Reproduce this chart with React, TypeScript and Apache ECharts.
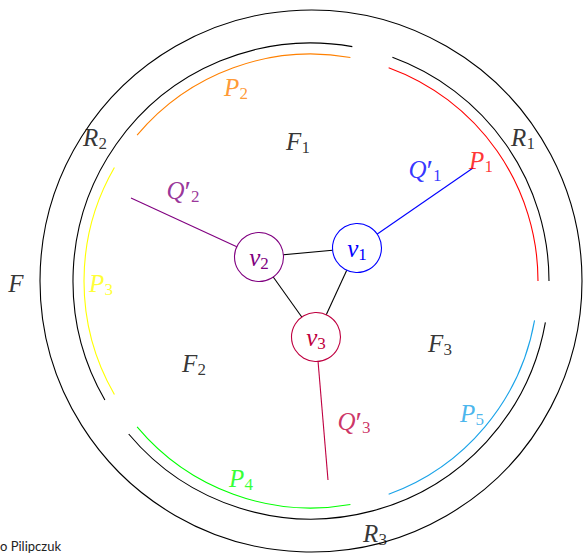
import React, { useEffect, useRef } from 'react';
import * as echarts from 'echarts';

// Ring and path arcs: radius, start / end angle (degrees, counter-clockwise from east)
const arcNames = ['F', 'R1', 'R2', 'R3', 'P1', 'P2', 'P3', 'P4', 'P5'];
const arcRadius = [271, 238, 238, 238, 227, 227, 227, 227, 227];
const arcStartDeg = [0, 0, 80, 220, 0, 80, 150, 220, 290];
const arcEndDeg = [360, 70, 210, 350, 70, 140, 210, 280, 350];

// Vertices
const nodeNames = ['v1', 'v2', 'v3'];
const nodeX = [46, -52, 5];
const nodeY = [33, 24, -56];

// Triangle edges
const edgeFrom = ['v2', 'v1', 'v2'];
const edgeTo = ['v1', 'v3', 'v3'];

// Spokes Q'
const spokeNames = ["Q1'", "Q2'", "Q3'"];
const spokeFrom = ['v1', 'v2', 'v3'];
const spokeEndX = [162, -180, 17];
const spokeEndY = [113, 83, -199];

// Text labels
const labelNames = ['F', 'R2', 'R1', 'F1', 'P2', "Q2'", "Q1'", 'P1', 'P3', 'F2', 'F3', "Q3'", 'P5', 'P4', 'R3'];
const labelX = [-295, -216, 212, -13, -75, -128, 114, 170, -210, -117, 129, 43, 161, -70, 64];
const labelY = [-2, 144, 144, 140, 194, 91, 112, 121, -2, -82, -62, -140, -132, -197, -252];

const colors: Record<string, string> = {
  F: '#000000', R1: '#000000', R2: '#000000', R3: '#000000',
  F1: '#000000', F2: '#000000', F3: '#000000',
  P1: '#ff0000', P2: '#ff8000', P3: '#ffff00', P4: '#00ff00', P5: '#1aa3e8',
  v1: '#0000ff', v2: '#800080', v3: '#bf0040',
  "Q1'": '#0000ff', "Q2'": '#800080', "Q3'": '#bf0040',
};

function richText(name: string): string {
  const base = name[0];
  const rest = name.slice(1);
  const prime = rest.includes("'");
  const sub = rest.replace("'", '');
  let s = `{m|${base}}`;
  if (prime) s += '{p|′}';
  if (sub) s += `{s|${sub}}`;
  return s;
}

const serif = 'Liberation Serif';
const rich = {
  m: { fontFamily: serif, fontStyle: 'italic', fontSize: 25, lineHeight: 30 },
  s: { fontFamily: serif, fontStyle: 'normal', fontSize: 17, lineHeight: 17, verticalAlign: 'bottom' },
  p: { fontFamily: serif, fontStyle: 'normal', fontSize: 30, lineHeight: 22, verticalAlign: 'top' },
};
const labelBase = {
  show: true,
  position: 'inside',
  fontFamily: serif,
  fontStyle: 'italic',
  fontSize: 25,
  formatter: (p: any) => richText(p.name),
  rich,
};

const nodeIndex = (n: string) => nodeNames.indexOf(n);

export default function App() {
  const ref = useRef<HTMLDivElement>(null);
  useEffect(() => {
    if (!ref.current) return;
    const chart = echarts.init(ref.current, undefined, { renderer: 'svg' });
    const lw = 1.1;
    const option: any = {
      animation: false,
      backgroundColor: '#ffffff',
      textStyle: { fontFamily: serif },
      grid: { left: 0, right: 0, top: 0, bottom: 0 },
      xAxis: { type: 'value', min: -311, max: 273, show: false },
      yAxis: { type: 'value', min: -272, max: 281, show: false },
      graphic: [
        {
          type: 'text', left: 0, top: 539,
          style: { text: 'o Pilipczuk', fontFamily: 'Lato', fontSize: 13, fill: '#222' },
        },
      ],
      series: [
        {
          type: 'custom',
          name: 'arcs',
          coordinateSystem: 'cartesian2d',
          data: arcNames.map((n, i) => [arcRadius[i], arcStartDeg[i], arcEndDeg[i]]),
          renderItem: (params: any, api: any) => {
            const c = api.coord([0, 0]);
            const r = api.size([api.value(0), 0])[0];
            const a1 = api.value(1);
            const a2 = api.value(2);
            const name = arcNames[params.dataIndex];
            return {
              type: 'arc',
              shape: {
                cx: c[0], cy: c[1], r,
                startAngle: (-a2 * Math.PI) / 180,
                endAngle: (-a1 * Math.PI) / 180,
                clockwise: true,
              },
              style: { stroke: colors[name], fill: null, lineWidth: lw },
            };
          },
          z: 1,
        },
        {
          type: 'custom',
          name: 'edges',
          coordinateSystem: 'cartesian2d',
          data: edgeFrom.map((f, i) => {
            const a = nodeIndex(f), b = nodeIndex(edgeTo[i]);
            return [nodeX[a], nodeY[a], nodeX[b], nodeY[b]];
          }),
          renderItem: (params: any, api: any) => {
            const p1 = api.coord([api.value(0), api.value(1)]);
            const p2 = api.coord([api.value(2), api.value(3)]);
            return {
              type: 'line',
              shape: { x1: p1[0], y1: p1[1], x2: p2[0], y2: p2[1] },
              style: { stroke: '#000', lineWidth: lw },
            };
          },
          z: 2,
        },
        {
          type: 'custom',
          name: 'spokes',
          coordinateSystem: 'cartesian2d',
          data: spokeFrom.map((f, i) => {
            const a = nodeIndex(f);
            return [nodeX[a], nodeY[a], spokeEndX[i], spokeEndY[i]];
          }),
          renderItem: (params: any, api: any) => {
            const p1 = api.coord([api.value(0), api.value(1)]);
            const p2 = api.coord([api.value(2), api.value(3)]);
            return {
              type: 'line',
              shape: { x1: p1[0], y1: p1[1], x2: p2[0], y2: p2[1] },
              style: { stroke: colors[spokeNames[params.dataIndex]], lineWidth: lw },
            };
          },
          z: 2,
        },
        {
          type: 'scatter',
          name: 'nodes',
          symbol: 'circle',
          symbolSize: 49,
          z: 3,
          data: nodeNames.map((n, i) => ({
            value: [nodeX[i], nodeY[i]],
            name: n,
            itemStyle: { color: '#ffffff', borderColor: colors[n], borderWidth: lw, opacity: 1 },
            label: { color: colors[n] },
          })),
          itemStyle: { opacity: 1 },
          label: labelBase,
          emphasis: { disabled: true },
        },
        {
          type: 'scatter',
          name: 'labels',
          symbolSize: 0,
          z: 4,
          data: labelNames.map((n, i) => ({
            value: [labelX[i], labelY[i]],
            name: n,
            label: { color: colors[n] },
          })),
          label: labelBase,
          emphasis: { disabled: true },
        },
      ],
    };
    chart.setOption(option);
    return () => chart.dispose();
  }, []);
  return (
    <div
      ref={ref}
      style={{ position: 'fixed', left: 0, top: 0, width: 584, height: 553 }}
    />
  );
}
